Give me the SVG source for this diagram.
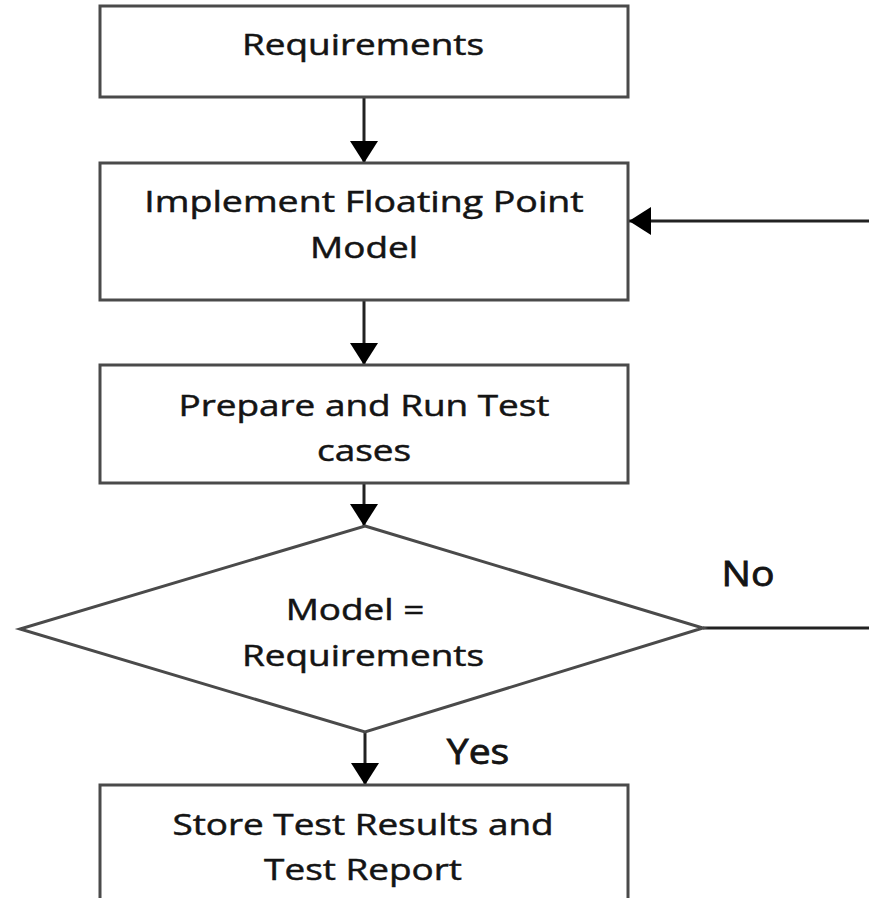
<svg xmlns="http://www.w3.org/2000/svg" width="869" height="898" viewBox="0 0 869 898">
  <style>
    .box { fill: #ffffff; stroke: #4a4a4a; stroke-width: 3; }
    .edge { fill: none; stroke: #222222; stroke-width: 3; }
    .lbl { font-family: "Open Sans", "DejaVu Sans", sans-serif; font-size: 30px; fill: #141414; stroke: #141414; stroke-width: 0.5; text-anchor: middle; }
    .big { font-size: 34px; stroke-width: 0.8; }
  </style>
  <defs>
    <marker id="arrow" viewBox="0 0 22 28" refX="22" refY="14" markerWidth="22" markerHeight="28" markerUnits="userSpaceOnUse" orient="auto">
      <path d="M0,0 L22,14 L0,28 z" fill="#000000"/>
    </marker>
  </defs>
  <rect width="869" height="898" fill="#ffffff"/>

  <g id="connectors">
    <line class="edge" x1="364" y1="97" x2="364" y2="163" marker-end="url(#arrow)"/>
    <line class="edge" x1="364" y1="300" x2="364" y2="365" marker-end="url(#arrow)"/>
    <line class="edge" x1="364" y1="483" x2="364" y2="526" marker-end="url(#arrow)"/>
    <line class="edge" x1="365" y1="732" x2="365" y2="785" marker-end="url(#arrow)"/>
    <line class="edge" x1="703" y1="628" x2="869" y2="628"/>
    <line class="edge" x1="869" y1="221" x2="629" y2="221" marker-end="url(#arrow)"/>
  </g>

  <g id="requirements">
    <rect class="box" x="100" y="6" width="528" height="91"/>
    <text class="lbl" transform="translate(363,55) scale(1.23,1)">Requirements</text>
  </g>

  <g id="implement">
    <rect class="box" x="100" y="163" width="528" height="137"/>
    <text class="lbl" transform="translate(364,212) scale(1.25,1)">Implement Floating Point</text>
    <text class="lbl" transform="translate(364,258) scale(1.23,1)">Model</text>
  </g>

  <g id="prepare">
    <rect class="box" x="100" y="365" width="528" height="118"/>
    <text class="lbl" transform="translate(364,416) scale(1.23,1)">Prepare and Run Test</text>
    <text class="lbl" transform="translate(364,461) scale(1.23,1)">cases</text>
  </g>

  <g id="decision">
    <polygon class="box" points="365,526 703,628 365,732 20,629"/>
    <text class="lbl" transform="translate(355,620) scale(1.23,1)">Model =</text>
    <text class="lbl" transform="translate(363,666) scale(1.23,1)">Requirements</text>
  </g>

  <g id="store">
    <rect class="box" x="100" y="785" width="528" height="130"/>
    <text class="lbl" transform="translate(363,835) scale(1.23,1)">Store Test Results and</text>
    <text class="lbl" transform="translate(363,880) scale(1.23,1)">Test Report</text>
  </g>

  <g id="labels">
    <text class="lbl big" transform="translate(748,586) scale(1.15,1)">No</text>
    <text class="lbl big" transform="translate(478,764) scale(1.15,1)">Yes</text>
  </g>
</svg>
